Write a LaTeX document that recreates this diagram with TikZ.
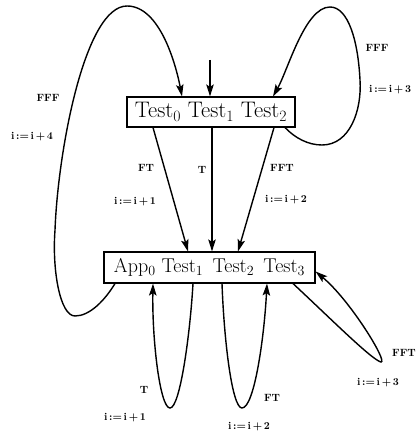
\documentclass[tikz,border=0pt]{standalone}
\usepackage{fontspec}
\usetikzlibrary{arrows.meta}
\newcommand{\sbs}[1]{\textsubscript{#1}}
\begin{document}
\begin{tikzpicture}[x=1pt,y=-1pt,
  boxnode/.style={draw,line width=1.1pt,inner sep=0pt,font=\fontsize{20}{24}\selectfont},
  bigbox/.style={boxnode,font=\fontsize{22.5}{26}\selectfont},
  lbl/.style={font=\fontsize{10.5}{12}\selectfont\bfseries,inner sep=0pt},
  conn/.style={line width=1.4pt,-{Stealth[length=12pt,width=7.5pt,inset=2.5pt]}},
  plain/.style={line width=1.4pt}]
\useasboundingbox (0,0) rectangle (418,435);
\node[bigbox,minimum width=168pt,minimum height=30pt] (top) at (211,112) {Test\sbs{0} Test\sbs{1} Test\sbs{2}};
\node[boxnode,minimum width=211pt,minimum height=31pt] (bot) at (209.5,267.5) {App\sbs{0} Test\sbs{1} \,Test\sbs{2} \,Test\sbs{3}};
% named attachment points
\coordinate (entry) at (210,60);
\coordinate (tA) at ([xshift=-58pt]top.south);
\coordinate (tB) at ([xshift=1pt]top.south);
\coordinate (tC) at ([xshift=63pt]top.south);
\coordinate (tinL) at ([xshift=-29pt]top.north);
\coordinate (tinR) at ([xshift=62pt]top.north);
\coordinate (tinM) at ([xshift=-1pt]top.north);
\coordinate (tout) at ([xshift=74pt]top.south);
\coordinate (bA) at ([xshift=-21.5pt]bot.north);
\coordinate (bB) at ([xshift=2.5pt]bot.north);
\coordinate (bC) at ([xshift=28.5pt]bot.north);
\coordinate (bL) at ([xshift=-94.5pt]bot.south);
\coordinate (b1o) at ([xshift=-16.5pt]bot.south);
\coordinate (b1i) at ([xshift=-56.5pt]bot.south);
\coordinate (b2o) at ([xshift=12.5pt]bot.south);
\coordinate (b2i) at ([xshift=57.5pt]bot.south);
\coordinate (b3o) at ([xshift=83.5pt]bot.south);
\coordinate (b3i) at ([yshift=-4pt]bot.east);
% entry
\draw[conn] (entry) -- (tinM);
% straight arrows
\draw[conn] (tA) -- (bA);
\draw[conn] (tB) -- (bB);
\draw[conn] (tC) -- (bC);
% left big loop
\draw[conn] (bL) .. controls (105,300) and (90,316) .. (75,316)
  .. controls (60,316) and (52,270) .. (55,230)
  .. controls (58,150) and (85,6) .. (127,6)
  .. controls (160,6) and (176,65) .. (tinL);
% right loop
\draw[conn] (tout) .. controls (295,138) and (308,145) .. (322,145)
  .. controls (350,145) and (362,110) .. (360,80)
  .. controls (358,40) and (348,7) .. (330,7)
  .. controls (305,7) and (288,70) .. (tinR);
% bottom loops
\draw[conn] (b1o) .. controls (190,335) and (180,408) .. (170,408)
  .. controls (160,408) and (152,340) .. (b1i);
\draw[conn] (b2o) .. controls (224,340) and (232,408) .. (242,408)
  .. controls (254,408) and (264,340) .. (b2i);
\draw[conn] (b3o) .. controls (330,318) and (372,360) .. (381,362)
  .. controls (388,362) and (350,300) .. (b3i);
% labels
\node[lbl] (l1) at (48,98) {FFF};
\node[lbl] (l2) at (32,137) {i\,:=\,i\,+\,4};
\node[lbl] (l3) at (377,48) {FFF};
\node[lbl,anchor=west] (l4) at (369,90) {i\,:=\,i\,+\,3};
\node[lbl] (l5) at (146,168) {FT};
\node[lbl] (l6) at (135,202) {i\,:=\,i\,+\,1};
\node[lbl] (l7) at (202,170) {T};
\node[lbl] (l8) at (282,168) {FFT};
\node[lbl] (l9) at (286,200) {i\,:=\,i\,+\,2};
\node[lbl] (l10) at (144,390) {T};
\node[lbl] (l11) at (125,418) {i\,:=\,i\,+\,1};
\node[lbl] (l12) at (272,398) {FT};
\node[lbl] (l13) at (249,427) {i\,:=\,i\,+\,2};
\node[lbl] (l14) at (404,353) {FFT};
\node[lbl] (l15) at (378,383) {i\,:=\,i\,+\,3};
\end{tikzpicture}
\end{document}
